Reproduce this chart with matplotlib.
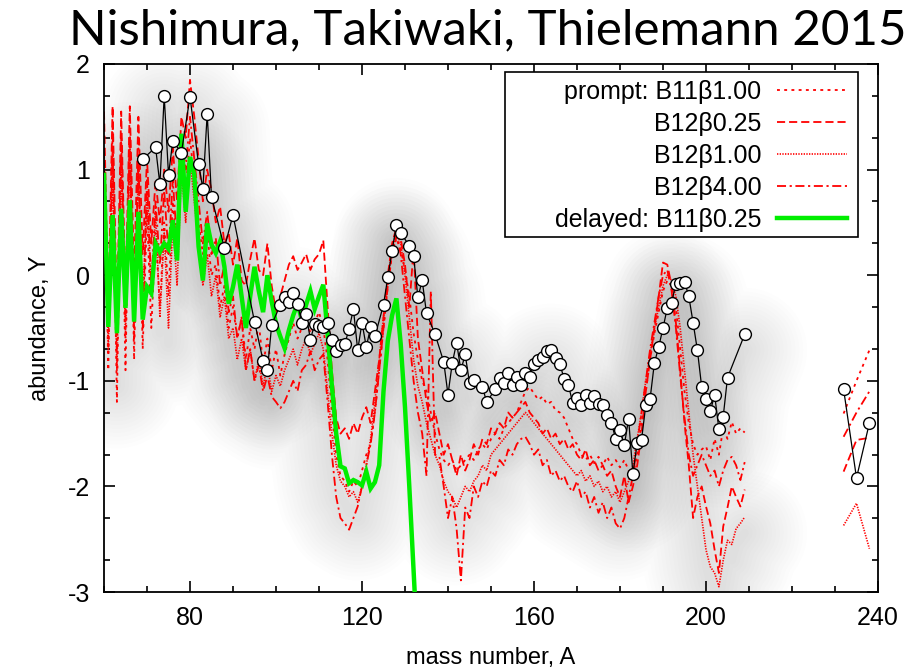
import matplotlib
matplotlib.use('Agg')
import matplotlib.pyplot as plt
from matplotlib.patches import Rectangle
import numpy as np

plt.rcParams['font.family'] = ['Liberation Sans', 'DejaVu Sans']
plt.rcParams['axes.unicode_minus'] = False

# ---------------- data ----------------
A_main = list(range(60, 210))
A_act = [232, 235, 238]

prompt_B11b100 = [
    1.2, -0.9, 1.4, -1.2, 1.3, -0.9, 1.4, -0.8, 1.2, -0.7,
    0.6, -0.5, 0.4, -0.3, 0.5, -0.2, 0.7, 0.2, 1.1, 0.8,
    1.3, 0.9, 0.5, 0.2, 0.4, 0.0, 0.1, -0.3, -0.1, -0.5,
    -0.3, -0.6, -0.4, -0.8, -0.5, -0.7, -0.45, -0.85, -0.6, -0.9,
    -0.7, -0.95, -0.75, -0.6, -0.45, -0.6, -0.5, -0.4, -0.55, -0.45,
    -0.35, -0.5, -0.8, -1.3, -1.7, -1.9, -1.95, -2.05, -1.95, -2.0,
    -1.85, -1.7, -1.6, -1.3, -0.9, -0.5, -0.1, 0.2, 0.35, 0.25,
    0.05, -0.2, -0.55, -0.8, -1.0, -1.1, -1.3, -1.5, -1.65, -1.75,
    -1.8, -1.75, -1.85, -1.8, -1.75, -1.7, -1.75, -1.65, -1.6, -1.65,
    -1.55, -1.5, -1.55, -1.45, -1.4, -1.35, -1.3, -1.2, -1.1, -1.06,
    -1.12, -1.18, -1.15, -1.22, -1.2, -1.28, -1.3, -1.35, -1.45, -1.55,
    -1.6, -1.7, -1.75, -1.7, -1.78, -1.72, -1.8, -1.72, -1.8, -1.75,
    -1.82, -1.75, -1.85, -1.9, -1.7, -1.4, -1.1, -0.8, -0.55, -0.35,
    -0.15, -0.05, -0.1, -0.3, -0.7, -1.1, -1.4, -1.6, -1.7, -1.65,
    -1.62, -1.75, -1.55, -1.7, -1.45, -1.55, -1.39, -1.5, -1.45, -1.49]
prompt_B11b100_act = [-1.31, -1.0, -0.71]

prompt_B12b025 = [
    1.55, -0.3, 1.6, -0.4, 1.55, -0.2, 1.6, 0.0, 1.5, 0.2,
    1.1, 0.3, 0.9, 0.5, 1.0, 0.6, 1.2, 0.7, 1.5, 1.3,
    1.85, 1.5, 1.1, 0.7, 1.0, 0.8, 0.5, 0.65, 0.3, 0.4,
    0.1, 0.35, -0.05, -0.1, 0.15, 0.35, 0.05, 0.0, 0.3, -0.1,
    -0.35, -0.2, -0.05, 0.1, 0.18, 0.05, 0.12, 0.2, 0.05, 0.15,
    0.2, 0.33, -0.3, -0.9, -1.35, -1.5, -1.45, -1.55, -1.4, -1.5,
    -1.35, -1.25, -1.4, -1.1, -0.8, -0.4, 0.0, 0.3, 0.45, 0.35,
    0.1, -0.3, 0.25, -0.6, -0.9, -1.2, -1.4, -1.3, -1.5, -1.7,
    -1.6, -1.75, -1.9, -1.7, -1.85, -1.75, -1.6, -1.7, -1.55, -1.6,
    -1.45, -1.5, -1.4, -1.45, -1.3, -1.35, -1.3, -1.25, -1.2, -1.3,
    -1.35, -1.4, -1.5, -1.45, -1.55, -1.5, -1.6, -1.55, -1.65, -1.6,
    -1.7, -1.75, -1.65, -1.8, -1.75, -1.85, -1.8, -1.9, -1.85, -2.0,
    -2.1, -1.9, -2.15, -2.0, -1.8, -1.5, -1.1, -0.8, -0.5, -0.2,
    0.12, 0.1, -0.1, -0.45, -0.9, -1.4, -1.8, -2.3, -2.1, -2.0,
    -2.19, -2.35, -2.6, -2.82, -2.38, -2.2, -2.0, -2.1, -2.19, -2.03]
prompt_B12b025_act = [-1.86, -1.56, -1.54]

prompt_B12b100 = [
    0.8, -0.7, 1.0, -0.9, 1.1, -0.6, 1.2, -0.5, 1.0, -0.3,
    0.8, -0.2, 0.6, -0.4, 0.4, -0.5, 0.5, -0.1, 1.0, 0.5,
    1.1, 0.7, 0.3, -0.1, 0.2, -0.2, 0.0, -0.4, -0.2, -0.6,
    -0.5, -0.8, -0.6, -0.9, -0.7, -1.0, -0.8, -1.05, -0.85, -1.1,
    -0.95, -1.05, -0.9, -0.8, -0.7, -0.85, -0.7, -0.6, -0.75, -0.65,
    -0.55, -0.7, -1.1, -1.5, -1.8, -1.95, -2.0, -2.1, -2.05, -2.15,
    -2.0, -1.8, -1.55, -1.2, -0.8, -0.4, -0.05, 0.25, 0.4, 0.3,
    0.0, -0.4, -0.8, -1.05, -1.2, -1.4, -1.55, -1.7, -1.8, -1.95,
    -2.05, -2.1, -2.2, -2.1, -2.0, -2.05, -1.95, -1.9, -1.8, -1.85,
    -1.7, -1.65, -1.6, -1.55, -1.5, -1.45, -1.4, -1.35, -1.3, -1.35,
    -1.4, -1.45, -1.5, -1.55, -1.6, -1.65, -1.7, -1.75, -1.8, -1.85,
    -1.9, -1.85, -1.95, -1.9, -2.0, -1.95, -2.05, -2.0, -2.1, -2.05,
    -2.15, -2.05, -1.95, -1.8, -1.55, -1.3, -1.0, -0.75, -0.5, -0.3,
    -0.1, 0.0, -0.05, -0.2, -0.5, -0.9, -1.3, -1.7, -2.0, -2.3,
    -2.6, -2.76, -2.82, -2.95, -2.7, -2.51, -2.55, -2.4, -2.35, -2.29]
prompt_B12b100_act = [-2.37, -2.16, -2.59]

prompt_B12b400 = [
    1.0, -0.5, 1.2, -0.7, 1.3, -0.4, 1.3, -0.6, 1.1, -0.5,
    0.9, -0.1, 0.7, 0.1, 0.8, 0.2, 0.9, 0.3, 1.3, 1.0,
    1.5, 1.1, 0.7, 0.3, 0.6, 0.2, 0.35, -0.1, 0.1, -0.35,
    -0.2, -0.6, -0.4, -0.9, -0.7, -1.0, -0.85, -1.1, -0.95, -1.15,
    -1.2, -1.26, -1.2, -1.1, -1.0, -1.1, -0.9, -0.85, -0.72, -0.9,
    -0.8, -0.75, -1.2, -1.7, -2.1, -2.3, -2.35, -2.41, -2.3, -2.19,
    -2.0, -1.8, -1.6, -1.3, -0.9, -0.5, -0.1, 0.2, 0.38, 0.2,
    -0.2, -0.6, -1.0, -1.3, -1.5, -1.9, -0.15, -1.7, -1.72, -2.0,
    -2.3, -2.1, -2.4, -2.89, -2.2, -2.3, -2.0, -2.1, -1.95, -2.0,
    -1.85, -1.9, -1.75, -1.8, -1.65, -1.7, -1.6, -1.55, -1.53, -1.6,
    -1.7, -1.65, -1.8, -1.75, -1.9, -1.85, -1.95, -1.9, -2.0, -2.05,
    -1.95, -2.1, -2.05, -2.2, -2.1, -2.25, -2.15, -2.3, -2.2, -2.35,
    -2.4, -2.3, -2.1, -1.9, -1.6, -1.3, -1.0, -0.7, -0.45, -0.2,
    0.0, 0.05, -0.15, -0.5, -0.95, -1.35, -1.7, -1.9, -1.8, -1.7,
    -1.8, -1.9, -1.85, -2.0, -1.85, -1.75, -1.72, -1.8, -1.94, -1.77]
prompt_B12b400_act = [-1.53, -1.3, -1.10]

A_delayed = list(range(60, 134))
delayed_B11b025 = [
    0.95, -0.49, 0.57, -0.55, 0.63, -0.31, 0.71, -0.44, 0.60, -0.42,
    -0.11, -0.17, 0.30, 0.22, 0.30, 0.25, 0.52, 0.14, 1.34, 0.60,
    1.12, 0.95, 0.27, -0.05, 0.49, 0.29, 0.21, 0.32, 0.08, -0.27,
    -0.11, 0.10, -0.20, -0.50, -0.20, 0.08, -0.15, -0.35, 0.00, -0.25,
    -0.46, -0.58, -0.69, -0.52, -0.38, -0.27, -0.42, -0.28, -0.15, -0.32,
    -0.20, -0.09, -0.55, -1.05, -1.50, -1.81, -1.83, -1.97, -1.94, -1.96,
    -1.99, -1.86, -2.02, -1.96, -1.80, -1.10, -0.62, -0.38, -0.22, -0.65,
    -1.25, -2.00, -2.80, -3.60]

A_solar = [69, 72, 73, 74, 75, 76, 78, 80, 82, 83, 84, 85, 88, 90,
           95, 97, 98, 99, 101, 102, 103, 104, 105, 106, 107, 108, 109, 110,
           111, 112, 113, 114, 115, 116, 117, 118, 119, 120, 121, 122, 123,
           125, 126, 127, 128, 129, 131, 132, 133, 134, 135, 137, 139, 140,
           141, 142, 143, 144, 145, 146, 148, 149, 151, 152, 153, 154, 155,
           156, 157, 158, 159, 160, 161, 162, 163, 164, 165, 166, 167, 168,
           169, 170, 171, 172, 173, 174, 175, 176, 177, 178, 179, 180, 181,
           182, 183, 184, 185, 186, 187, 188, 189, 190, 191, 192, 193, 194,
           195, 196, 197, 198, 199, 200, 201, 202, 203, 204, 205, 209]
Y_solar = [1.10, 1.21, 0.86, 1.70, 0.95, 1.27, 1.16, 1.69, 1.05, 0.82, 1.53, 0.74, 0.26, 0.57,
           -0.44, -0.81, -0.90, -0.47, -0.28, -0.21, -0.25, -0.17, -0.27, -0.45, -0.37, -0.61, -0.46, -0.48,
           -0.49, -0.45, -0.61, -0.72, -0.66, -0.65, -0.51, -0.32, -0.71, -0.45, -0.68, -0.49, -0.58,
           -0.28, -0.02, 0.23, 0.48, 0.40, 0.28, 0.18, -0.21, -0.05, -0.36, -0.56, -0.82, -1.13,
           -0.83, -0.64, -0.90, -0.75, -1.02, -0.99, -1.06, -1.20, -1.08, -0.97, -1.02, -0.93, -1.04,
           -0.96, -1.04, -0.93, -0.96, -0.84, -0.80, -0.77, -0.72, -0.71, -0.78, -0.84, -0.98, -1.04,
           -1.21, -1.16, -1.23, -1.13, -1.21, -1.14, -1.22, -1.23, -1.32, -1.40, -1.55, -1.47, -1.61,
           -1.36, -1.88, -1.59, -1.56, -1.23, -1.17, -0.83, -0.68, -0.50, -0.31, -0.26, -0.08, -0.07,
           -0.06, -0.20, -0.45, -0.71, -1.06, -1.17, -1.29, -1.13, -1.46, -1.34, -0.97, -0.56]
A_solar_act = [232, 235, 238]
Y_solar_act = [-1.08, -1.92, -1.40]

labels = ['prompt: B11\u03b21.00', 'B12\u03b20.25', 'B12\u03b21.00', 'B12\u03b24.00',
          'delayed: B11\u03b20.25']

# ---------------- figure ----------------
fig = plt.figure(figsize=(9.19, 6.68), dpi=100)
fig.patch.set_facecolor('white')
ax = fig.add_axes([104/919, 1-592/668, (878-104)/919, (592-64)/668])
ax.set_facecolor('white')

red_series = [
    (prompt_B11b100, prompt_B11b100_act, dict(dashes=(1.6, 2.4), lw=1.3)),
    (prompt_B12b025, prompt_B12b025_act, dict(dashes=(4.5, 2.2), lw=1.3)),
    (prompt_B12b100, prompt_B12b100_act, dict(dashes=(0.8, 0.8), lw=1.2)),
    (prompt_B12b400, prompt_B12b400_act, dict(dashes=(5, 2, 1.2, 2), lw=1.3)),
]

# soft grey shadow behind the curves (smooth, faint)
shadow_sets = [(A_solar, Y_solar), (A_main, prompt_B12b100)]
widths = np.linspace(90, 6, 16)
for xs, ys in shadow_sets:
    ys2 = [v - 0.15 for v in ys]
    for w in widths:
        ax.plot(xs, ys2, color='k', lw=w, alpha=0.0075, solid_capstyle='round',
                solid_joinstyle='round', zorder=0.5)

handles = []
for ys, ys_act, st in red_series:
    ln, = ax.plot(A_main, ys, color='#ff0000', zorder=2, **st)
    ax.plot(A_act, ys_act, color='#ff0000', zorder=2, **st)
    handles.append(ln)

g, = ax.plot(A_delayed, delayed_B11b025, color='#00ee00', lw=3.2, zorder=3,
             solid_joinstyle='miter')
handles.append(g)

ax.plot(A_solar, Y_solar, color='k', lw=0.9, marker='o', ms=8.5, mfc='white',
        mec='k', mew=1.0, zorder=4)
ax.plot(A_solar_act, Y_solar_act, color='k', lw=0.9, marker='o', ms=8.5,
        mfc='white', mec='k', mew=1.0, zorder=4)

ax.set_xlim(60, 240)
ax.set_ylim(-3, 2)
ax.set_xticks([80, 120, 160, 200, 240])
ax.set_xticks(list(range(60, 241, 10)), minor=True)
ax.set_yticks([-3, -2, -1, 0, 1, 2])
ymin = []
for d in [-3, -2, -1, 0, 1]:
    for f in [0.30103, 0.69897]:
        ymin.append(d + f)
ax.set_yticks(ymin, minor=True)
ax.tick_params(which='both', direction='in', top=True, right=True, width=1.2)
ax.tick_params(which='major', length=8, labelsize=18, pad=10)
ax.tick_params(which='minor', length=4)
for sp in ax.spines.values():
    sp.set_linewidth(1.3)

ax.set_xlabel('mass number, A', fontsize=17, labelpad=12)
ax.set_ylabel('abundance, Y', fontsize=17, labelpad=12)

# legend frame
rect = Rectangle((505/919, 1-237/668), 353/919, 165/668, transform=fig.transFigure,
                 facecolor='white', edgecolor='k', lw=1.2, zorder=5)
ax.add_patch(rect)
leg = ax.legend(handles, labels, loc='upper right', frameon=False, markerfirst=False,
                bbox_to_anchor=(864/919, 1-62/668), bbox_transform=fig.transFigure,
                fontsize=18, handlelength=2.8, handletextpad=0.6, labelspacing=0.32,
                borderpad=0.2)
leg.set_zorder(6)

fig.text(0.5305, 1-30/668, 'Nishimura, Takiwaki, Thielemann 2015', ha='center', va='center',
         fontsize=35.5, family=['Lato', 'DejaVu Sans'])

fig.savefig('out.png', dpi=100)
